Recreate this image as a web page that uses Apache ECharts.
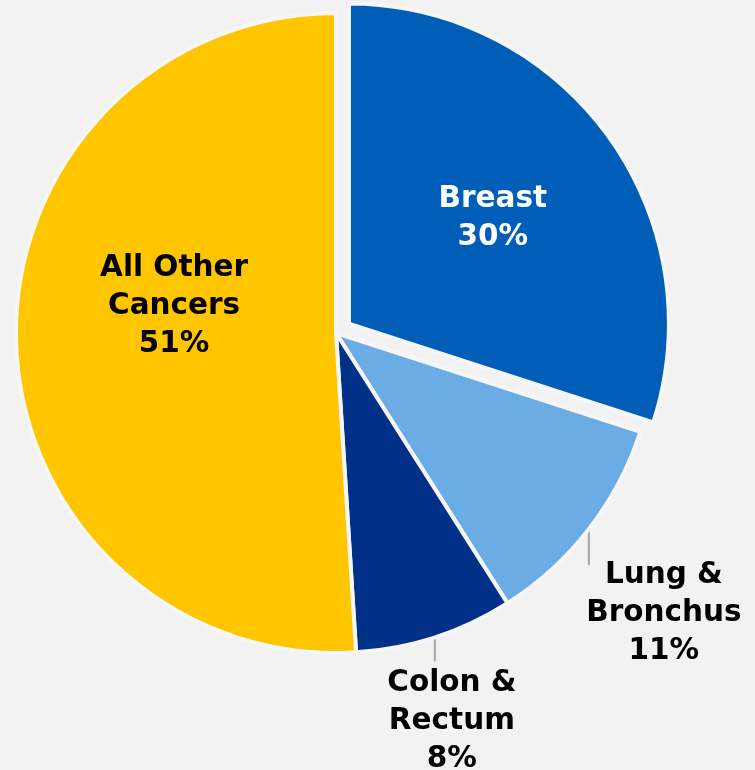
<!DOCTYPE html>
<html>
<head>
<meta charset="utf-8">
<script src="https://cdn.jsdelivr.net/npm/echarts@6/dist/echarts.min.js"></script>
<style>
    html, body { margin: 0; padding: 0; background: #f2f2f2; }
    #chart { width: 755px; height: 770px; }
</style>
</head>
<body>
<div id="chart"></div>
<script>
    const sites = ["Breast", "Lung &\nBronchus", "Colon &\nRectum", "All Other\nCancers"];
    const shares = [30, 11, 8, 51];
    const colors = ["#005eb8", "#6cace4", "#003087", "#ffc600"];
    const labelColors = ["#ffffff", "#000000", "#000000", "#000000"];
    const outsideLabel = [false, true, true, false];

    const chart = echarts.init(document.getElementById("chart"), null, { renderer: "canvas" });

    const data = sites.map((name, i) => ({
        name,
        value: shares[i],
        selected: i === 0,
        itemStyle: { color: colors[i] },
        label: {
            position: outsideLabel[i] ? "outside" : "inside",
            color: labelColors[i]
        },
        labelLine: { show: outsideLabel[i] }
    }));

    chart.setOption({
        backgroundColor: "#f2f2f2",
        animation: false,
        series: [
            {
                type: "pie",
                center: [336, 333],
                radius: 320,
                startAngle: 90,
                clockwise: true,
                selectedMode: "single",
                selectedOffset: 16,
                avoidLabelOverlap: false,
                itemStyle: {
                    borderColor: "#f6f6f6",
                    borderWidth: 4
                },
                emphasis: { disabled: true },
                label: {
                    fontFamily: "DejaVu Sans",
                    fontWeight: "bold",
                    fontSize: 29.5,
                    lineHeight: 38,
                    align: "center",
                    formatter: ({ name, value }) => `${name}\n${value}%`
                },
                labelLine: {
                    length: 38,
                    length2: 0,
                    lineStyle: { color: "#a6a6a6", width: 2 }
                },
                labelLayout: (params) => {
                    const i = params.dataIndex;
                    if (i === 0) {
                        return { dx: 12, dy: -9 };
                    }
                    if (i === 3) {
                        return { dx: 1, dy: -32 };
                    }
                    const p = params.labelLinePoints[0];
                    const drop = i === 1 ? 36 : 24;
                    const shift = i === 1 ? 75 : 17;
                    return {
                        x: p[0] + shift,
                        y: p[1] + 27,
                        align: "center",
                        verticalAlign: "top",
                        labelLinePoints: [[p[0], p[1]], [p[0], p[1] + drop], [p[0], p[1] + drop]]
                    };
                },
                data
            }
        ]
    });
</script>
</body>
</html>
